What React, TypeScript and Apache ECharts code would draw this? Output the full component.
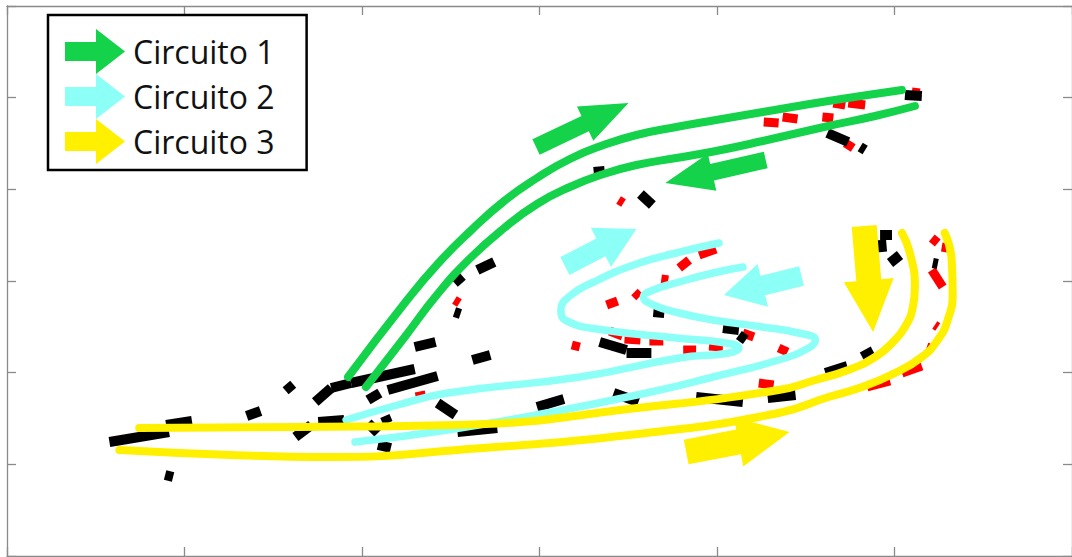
import React, { useEffect, useRef } from "react";
import * as echarts from "echarts";

// Axis extents (arbitrary units, ticks without labels)
const X_MAX = 1071;
const Y_MAX = 550;
const X_STEP = 178.5;
const Y_STEP = 550 / 6;

const legendNames = ["Circuito 1", "Circuito 2", "Circuito 3"];

// Trajectory curves [x, y]
const greenOuter = [[343,371],[400,297],[433,258],[466,225],[500,195],[533,172],[566,153],[600,139],[633,129],[673,121],[713,114],[760,106],[826,95],[900,84]];
const greenInner = [[361,381],[400,331],[433,288],[466,252],[500,222],[533,198],[566,181],[600,168],[633,159],[673,152],[713,145],[760,135],[826,120],[873,110],[913,100]];

const cyanOuter = [[716,237],[673,247],[633,258],[590,276],[566,290],[557,304],[563,315],[600,324],[673,332],[723,337],[736,342],[726,347],[676,352],[576,371],[443,387],[393,399],[341,414]];
const cyanInner = [[740,261],[710,267],[676,276],[650,284],[640,291],[650,299],[676,307],[710,314],[760,321],[796,327],[813,334],[806,342],[776,354],[710,371],[643,387],[543,407],[443,424],[350,436]];

const yellowInner = [[133,422],[293,421],[453,419],[643,401],[776,384],[813,374],[846,364],[873,351],[890,337],[903,321],[911,301],[913,281],[908,247],[900,227]];
const yellowOuter = [[113,444],[226,449],[326,451],[453,444],[643,427],[776,407],[826,391],[860,381],[893,367],[920,351],[936,334],[946,314],[951,287],[950,254],[943,227]];

// Direction arrows [xTail, yTail, xTip, yTip]
const greenArrows = [[532,141,625,97],[763,154,662,177]];
const cyanArrows = [[561,260,633,223],[799,270,721,289]];
const yellowArrows = [[862,220,871,326],[683,446,787,426]];

// Measured dashed segments [x1, y1, x2, y2]
const blackSegments = [
  [103,436,163,426],[160,419,186,415],[159,469,167,471],[241,410,255,405],[281,378,287,385],
  [290,431,306,419],[313,416,339,414],[310,396,326,382],[326,382,346,377],[346,377,410,363],
  [383,384,433,370],[363,394,375,387],[363,417,373,427],[380,410,383,417],[373,439,386,442],
  [410,341,431,336],[433,397,451,409],[468,354,486,349],[450,277,458,270],[473,264,490,256],
  [450,306,456,308],[590,166,601,165],[637,188,649,199],[596,336,623,344],[623,347,648,347],
  [650,306,661,307],[720,322,736,324],[736,329,743,334],[610,387,635,396],[693,391,740,396],
  [765,392,793,389],[823,367,845,360],[860,351,871,345],[453,426,493,422],[533,401,560,393],
  [903,89,920,90],[825,127,846,136],[858,141,863,144],[878,229,890,229],[879,234,880,246],
  [888,257,898,249],[931,257,936,258]
];
const redSegments = [
  [761,116,776,117],[780,111,795,113],[820,111,831,112],[831,97,843,99],[846,97,863,99],
  [843,137,851,142],[910,86,918,87],[615,194,620,197],[450,294,455,297],[568,339,576,341],
  [603,299,614,295],[631,286,636,291],[658,273,665,274],[676,262,686,254],[696,249,713,243],
  [606,325,619,330],[621,333,637,334],[646,335,660,335],[680,344,693,344],[706,340,720,341],
  [740,327,751,331],[776,342,785,346],[756,377,771,379],[930,232,936,237],[940,241,946,242],
  [930,264,941,281],[933,319,936,321],[925,341,928,342],[900,367,920,360],[865,381,888,375],
  [411,391,421,389]
];

const GREEN = "#14D24A";
const CYAN = "#8CFFF7";
const YELLOW = "#FFF000";

const ARROW_ICON = "path://M0,13L31,13L31,0L60,22.5L31,45L31,32L0,32Z";

function arrowRenderer(color: string, shaft: number, head: number, headLen: number) {
  return (params: any, api: any) => {
    const a = api.coord([api.value(0), api.value(1)]);
    const b = api.coord([api.value(2), api.value(3)]);
    const dx = b[0] - a[0];
    const dy = b[1] - a[1];
    const len = Math.sqrt(dx * dx + dy * dy) || 1;
    const ux = dx / len, uy = dy / len;
    const nx = -uy, ny = ux;
    const hb = [b[0] - ux * headLen, b[1] - uy * headLen];
    const s = shaft / 2, h = head / 2;
    const points = [
      [a[0] + nx * s, a[1] + ny * s],
      [hb[0] + nx * s, hb[1] + ny * s],
      [hb[0] + nx * h, hb[1] + ny * h],
      [b[0], b[1]],
      [hb[0] - nx * h, hb[1] - ny * h],
      [hb[0] - nx * s, hb[1] - ny * s],
      [a[0] - nx * s, a[1] - ny * s],
    ];
    return { type: "polygon", shape: { points }, style: { fill: color } };
  };
}

function segmentRenderer(color: string, width: number) {
  return (params: any, api: any) => {
    const a = api.coord([api.value(0), api.value(1)]);
    const b = api.coord([api.value(2), api.value(3)]);
    return {
      type: "line",
      shape: { x1: a[0], y1: a[1], x2: b[0], y2: b[1] },
      style: { stroke: color, lineWidth: width, lineCap: "butt", fill: null },
    };
  };
}

function curve(name: string, data: number[][], color: string, width: number) {
  return {
    name,
    type: "line",
    data,
    smooth: 0.5,
    showSymbol: false,
    symbol: "none",
    lineStyle: { color, width, cap: "round", join: "round" },
    itemStyle: { color },
    z: 3,
    silent: true,
  };
}

function arrowSeries(name: string, data: number[][], color: string, shaft: number, head: number, headLen: number) {
  return {
    name,
    type: "custom",
    data,
    dimensions: ["x1", "y1", "x2", "y2"],
    encode: { x: [0, 2], y: [1, 3] },
    itemStyle: { color },
    renderItem: arrowRenderer(color, shaft, head, headLen),
    z: 5,
    silent: true,
  };
}

function segSeries(name: string, data: number[][], color: string, width: number) {
  return {
    name,
    type: "custom",
    data,
    dimensions: ["x1", "y1", "x2", "y2"],
    encode: { x: [0, 2], y: [1, 3] },
    itemStyle: { color },
    renderItem: segmentRenderer(color, width),
    z: 2,
    silent: true,
  };
}

const axisColor = "#8a8a8a";

function xAx(position: string) {
  return {
    type: "value",
    position,
    min: 0,
    max: X_MAX,
    interval: X_STEP,
    axisLine: { show: true, onZero: false, lineStyle: { color: axisColor, width: 1.3 } },
    axisTick: { show: true, inside: true, length: 9, lineStyle: { color: axisColor, width: 1.3 } },
    axisLabel: { show: false },
    splitLine: { show: false },
  };
}
function yAx(position: string) {
  return {
    type: "value",
    position,
    inverse: true,
    min: 0,
    max: Y_MAX,
    interval: Y_STEP,
    axisLine: { show: true, onZero: false, lineStyle: { color: axisColor, width: 1.3 } },
    axisTick: { show: true, inside: true, length: 9, lineStyle: { color: axisColor, width: 1.3 } },
    axisLabel: { show: false },
    splitLine: { show: false },
  };
}

export default function App() {
  const ref = useRef<HTMLDivElement>(null);
  useEffect(() => {
    if (!ref.current) return;
    const chart = echarts.init(ref.current, null, { renderer: "svg" });
    chart.setOption({
      animation: false,
      backgroundColor: "#ffffff",
      grid: { left: 7, top: 6, width: 1071, height: 550, containLabel: false },
      xAxis: [xAx("bottom"), xAx("top")],
      yAxis: [yAx("left"), yAx("right")],
      legend: {
        data: [
          { name: legendNames[0], icon: ARROW_ICON },
          { name: legendNames[1], icon: ARROW_ICON },
          { name: legendNames[2], icon: ARROW_ICON },
        ],
        orient: "vertical",
        left: 48,
        top: 15,
        itemWidth: 60,
        itemHeight: 45,
        itemGap: 0,
        padding: [14, 32, 6, 17],
        backgroundColor: "#ffffff",
        borderColor: "#000000",
        borderWidth: 2.5,
        borderRadius: 0,
        selectedMode: false,
        itemStyle: { borderWidth: 0 },
        textStyle: { fontSize: 32, fontFamily: "'Open Sans', 'Noto Sans', sans-serif", color: "#111111", padding: [0, 0, 0, 3] },
      },
      series: [
        segSeries("rojo", redSegments, "#FF0000", 9),
        segSeries("negro", blackSegments, "#000000", 10),
        curve("c2a", cyanOuter, CYAN, 7.5),
        curve("c2b", cyanInner, CYAN, 7.5),
        curve("c3a", yellowInner, YELLOW, 8),
        curve("c3b", yellowOuter, YELLOW, 8),
        curve("c1a", greenOuter, GREEN, 8),
        curve("c1b", greenInner, GREEN, 8),
        arrowSeries(legendNames[0], greenArrows, GREEN, 17, 38, 48),
        arrowSeries(legendNames[1], cyanArrows, CYAN, 20, 44, 40),
        arrowSeries(legendNames[2], yellowArrows, YELLOW, 25, 50, 52),
      ],
    });
    return () => chart.dispose();
  }, []);
  return (
    <div
      ref={ref}
      style={{ position: "fixed", left: 0, top: 0, width: 1072, height: 557, background: "#fff" }}
    />
  );
}
